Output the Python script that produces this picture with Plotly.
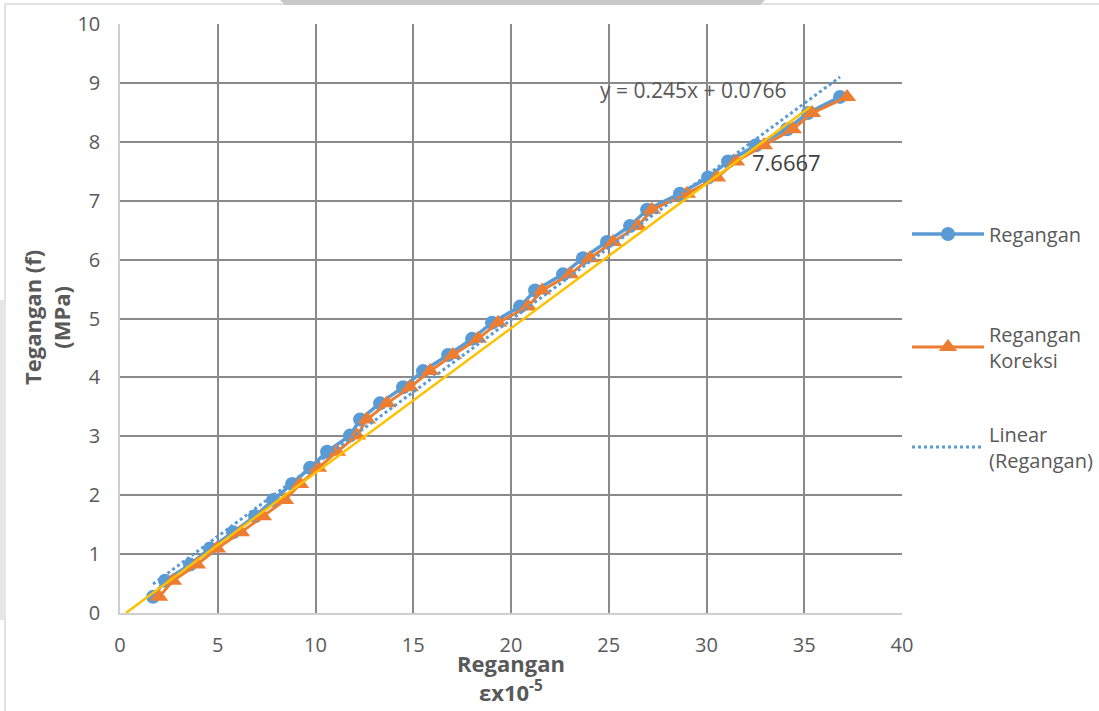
import plotly.graph_objects as go

# Stress levels (MPa)
tegangan = [0.2738, 0.5476, 0.8214, 1.0952, 1.3690, 1.6429, 1.9167, 2.1905,
            2.4643, 2.7381, 3.0119, 3.2857, 3.5595, 3.8333, 4.1071, 4.3810,
            4.6548, 4.9286, 5.2024, 5.4762, 5.7500, 6.0238, 6.2976, 6.5714,
            6.8452, 7.1190, 7.3929, 7.6667, 7.9405, 8.2143, 8.4881, 8.7619]

# Measured strain (x10^-5)
regangan = [1.69, 2.30, 3.58, 4.60, 5.78, 6.91, 7.83, 8.80,
            9.72, 10.59, 11.76, 12.28, 13.30, 14.48, 15.50, 16.78,
            18.01, 19.03, 20.46, 21.23, 22.66, 23.68, 24.91, 26.09,
            26.96, 28.64, 30.08, 31.10, 32.53, 34.12, 35.19, 36.83]

# Corrected strain (x10^-5)
regangan_koreksi = [2.00, 2.71, 3.94, 4.96, 6.19, 7.31, 8.44, 9.21,
                    10.13, 11.10, 12.12, 12.63, 13.66, 14.83, 15.86, 17.03,
                    18.31, 19.34, 20.87, 21.59, 23.02, 24.04, 25.22, 26.50,
                    27.21, 29.00, 30.54, 31.51, 32.94, 34.42, 35.40, 37.19]

# Linear trend of the measured strain: y = 0.245x + 0.0766
trend_slope = 0.245
trend_intercept = 0.0766

# Reference line through the origin region
ref_x = [0.3, 35.3]
ref_y = [0.0, 8.59]

# Index of the point carrying a value label
label_idx = 27

W, H = 1099, 711
L, R, T, B = 120, 197, 24, 98
PW, PH = W - L - R, H - T - B


def px(xp):
    return (xp - L) / PW


def py(yp):
    return (H - B - yp) / PH


def cx(xp):
    return xp / W


def cy(yp):
    return 1 - yp / H


FONT = "Open Sans"
TXT = "#595959"

fig = go.Figure()

fig.add_trace(go.Scatter(
    x=regangan, y=tegangan, mode="lines+markers", name="Regangan",
    legend="legend",
    line=dict(color="#5B9BD5", width=3.5),
    marker=dict(symbol="circle", size=14, color="#5B9BD5"),
))

fig.add_trace(go.Scatter(
    x=regangan_koreksi, y=tegangan, mode="lines+markers",
    name="Regangan<br>Koreksi", legend="legend2",
    line=dict(color="#ED7D31", width=3),
    marker=dict(symbol="triangle-up", size=16, color="#ED7D31"),
))

tx = [min(regangan), max(regangan)]
ty = [trend_slope * v + trend_intercept for v in tx]
fig.add_trace(go.Scatter(
    x=tx, y=ty, mode="lines", name="Linear<br>(Regangan)", legend="legend3",
    line=dict(color="#5B9BD5", width=3, dash="dot"),
))

fig.add_trace(go.Scatter(
    x=ref_x, y=ref_y, mode="lines", showlegend=False,
    line=dict(color="#FFC000", width=2.5),
))

annotations = [
    dict(x=29.3, y=8.88, xref="x", yref="y",
         text=f"y = {trend_slope}x + {trend_intercept}", showarrow=False,
         font=dict(family=FONT, size=21, color=TXT)),
    dict(x=regangan_koreksi[label_idx], y=tegangan[label_idx], xref="x", yref="y",
         text=f"{tegangan[label_idx]:.4f}", showarrow=False,
         xanchor="left", yanchor="middle", xshift=14, yshift=-1,
         font=dict(family=FONT, size=22, color="#404040")),
    dict(x=px(511), y=py(646), xref="paper", yref="paper",
         text="<b>Regangan</b><br><b>εx10<sup>-5</sup></b>", showarrow=False,
         xanchor="center", yanchor="top",
         font=dict(family=FONT, size=22, color=TXT)),
    dict(x=px(46), y=py(318), xref="paper", yref="paper",
         text="<b>Tegangan (f)</b><br><b>(MPa)</b>", showarrow=False,
         textangle=-90, xanchor="center", yanchor="middle",
         font=dict(family=FONT, size=22, color=TXT)),
]

shapes = [
    # page frame and scan shading
    dict(type="line", xref="paper", yref="paper",
         x0=px(5), x1=px(W), y0=py(4), y1=py(4),
         line=dict(color="#d9d9d9", width=1.5), layer="below"),
    dict(type="line", xref="paper", yref="paper",
         x0=px(5), x1=px(5), y0=py(4), y1=py(H),
         line=dict(color="#d9d9d9", width=1.5), layer="below"),
    dict(type="path", xref="paper", yref="paper",
         path=(f"M{px(280)},{py(0)} L{px(765)},{py(0)} L{px(760)},{py(5)} "
               f"L{px(285)},{py(5)} Z"),
         fillcolor="#c9c9c9", line=dict(width=0), layer="below"),
    dict(type="rect", xref="paper", yref="paper",
         x0=px(0), x1=px(6), y0=py(620), y1=py(300),
         fillcolor="#e6e6e6", line=dict(width=0), layer="below"),
]


def leg(yc):
    return dict(xref="container", yref="container", x=cx(907), y=cy(yc),
                xanchor="left", yanchor="middle",
                font=dict(family=FONT, size=20, color=TXT),
                itemwidth=72, bgcolor="rgba(0,0,0,0)")


fig.update_layout(
    width=W, height=H,
    margin=dict(l=L, r=R, t=T, b=B, autoexpand=False),
    paper_bgcolor="white", plot_bgcolor="white",
    font=dict(family=FONT, size=20, color=TXT),
    showlegend=True,
    legend=leg(234),
    legend2=leg(347),
    legend3=leg(447),
    annotations=annotations,
    shapes=shapes,
    xaxis=dict(range=[0, 40], dtick=5, showgrid=True, gridcolor="#8a8a8a",
               gridwidth=1.5, zeroline=False, showline=True, linecolor="#cfcfcf",
               linewidth=1.5, ticks="", ticklabelstandoff=13,
               tickfont=dict(family=FONT, size=20, color=TXT)),
    yaxis=dict(range=[0, 10], dtick=1, showgrid=True, gridcolor="#8a8a8a",
               gridwidth=1.5, zeroline=False, showline=True, linecolor="#cfcfcf",
               linewidth=1.5, ticks="", ticklabelstandoff=14,
               tickfont=dict(family=FONT, size=20, color=TXT)),
)

fig.write_html("out.html")
